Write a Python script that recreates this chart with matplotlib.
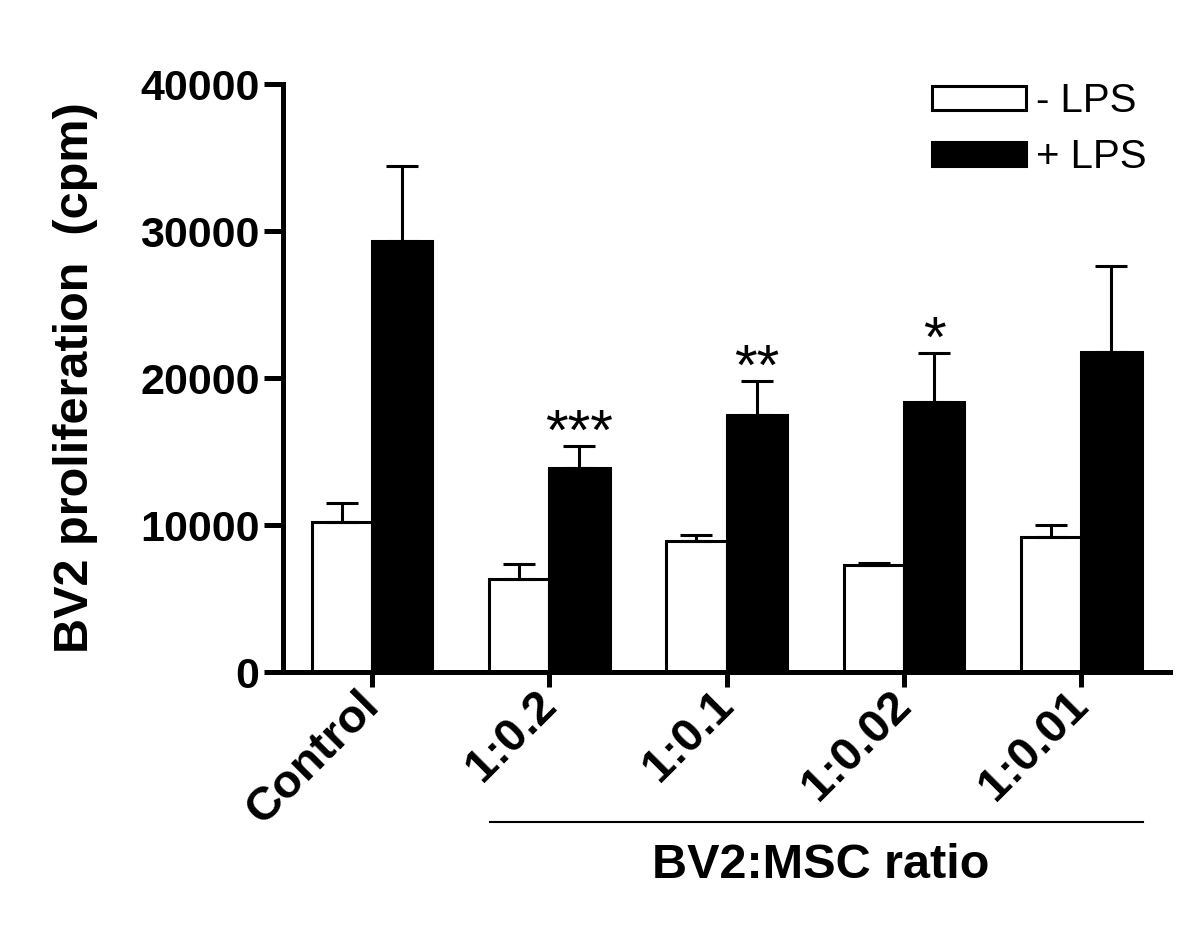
import numpy as np
import matplotlib.pyplot as plt

plt.rcParams['font.family'] = ['Liberation Sans', 'DejaVu Sans']

groups = ['Control', '1:0.2', '1:0.1', '1:0.02', '1:0.01']
minus_lps = [10200, 6300, 8900, 7300, 9200]
minus_err = [1300, 1050, 450, 150, 800]
plus_lps = [29300, 13900, 17500, 18400, 21800]
plus_err = [5100, 1500, 2300, 3300, 5800]
stars = ['', '***', '**', '*', '']

x = np.arange(len(groups))
w = 0.34

fig = plt.figure(figsize=(12, 9.34), dpi=100)
ax = fig.add_axes([0.236, 0.2805, 0.739, 0.6295])

ax.bar(x - w/2, minus_lps, w, color='white', edgecolor='black', linewidth=2.2,
       yerr=[np.zeros(len(x)), minus_err], error_kw=dict(elinewidth=2.2, capsize=11.5, capthick=2.2),
       label='- LPS', zorder=2)
ax.bar(x + w/2, plus_lps, w, color='black', edgecolor='black', linewidth=2.2,
       yerr=[np.zeros(len(x)), plus_err], error_kw=dict(elinewidth=2.2, capsize=11.5, capthick=2.2),
       label='+ LPS', zorder=2)

for i, s in enumerate(stars):
    if s:
        ax.text(x[i] + w/2, plus_lps[i] + plus_err[i] - 250, s, ha='center', va='baseline',
                fontsize=42)

ax.set_xlim(-0.5, 4.5)
ax.set_ylim(0, 40000)
ax.set_yticks([0, 10000, 20000, 30000, 40000])
ax.set_xticks(x)
ax.set_xticklabels(groups, rotation=45, ha='right', va='center', rotation_mode='anchor',
                   fontsize=34, fontweight='bold')
for lab in ax.get_yticklabels():
    lab.set_fontsize(31)
    lab.set_fontweight('bold')

for side in ['top', 'right']:
    ax.spines[side].set_visible(False)
for side in ['left', 'bottom']:
    ax.spines[side].set_linewidth(3.6)
ax.tick_params(axis='y', length=14, width=3.6, pad=3)
ax.tick_params(axis='x', length=11, width=3.6, pad=8)

ax.set_ylabel('BV2 proliferation  (cpm)', fontsize=35, fontweight='bold', labelpad=30)

leg = ax.legend(loc='upper right', bbox_to_anchor=(1.015, 1.065), frameon=False, fontsize=29,
                handlelength=2.35, handleheight=0.55, labelspacing=0.45, handletextpad=0.25)

# bracket under ratio groups
fig.add_artist(plt.Line2D([490 / 1200, 1143 / 1200], [1 - 822 / 934, 1 - 822 / 934],
                          color='black', linewidth=1.5))
fig.text(821 / 1200, 1 - 866 / 934, 'BV2:MSC ratio', ha='center', va='center',
         fontsize=35, fontweight='bold')

fig.savefig('out.png', dpi=100)
